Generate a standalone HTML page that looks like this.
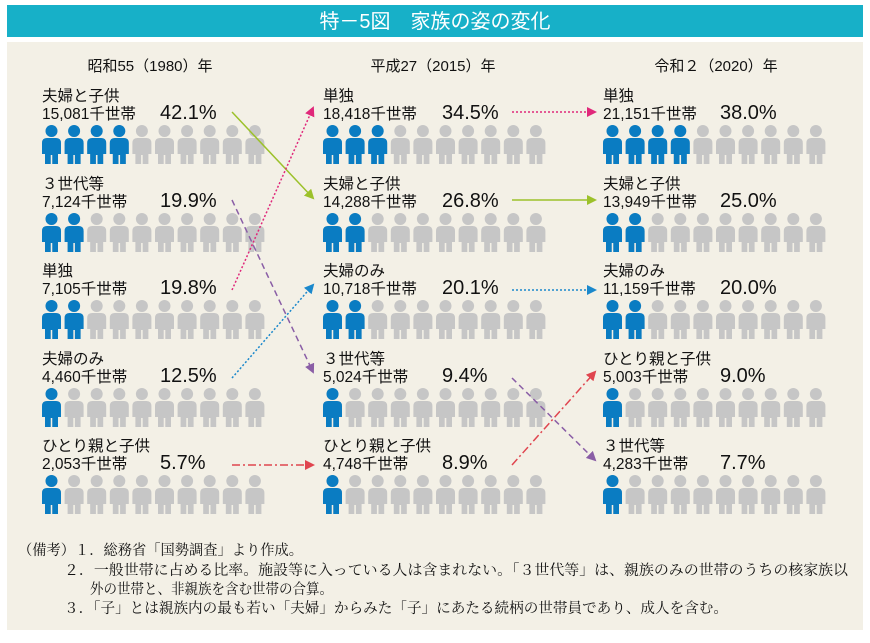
<!DOCTYPE html>
<html><head><meta charset="utf-8"><style>
body{margin:0;background:#fff;}
svg text{font-family:"Liberation Sans","Noto Sans CJK JP",sans-serif;fill:#111;}
.fn{font-family:"Liberation Serif","Noto Serif CJK SC",serif;font-size:14.5px;}
</style></head><body>
<svg width="870" height="638" viewBox="0 0 870 638" xmlns="http://www.w3.org/2000/svg" xmlns:xlink="http://www.w3.org/1999/xlink">
<defs>
<g id="p"><circle cx="9.5" cy="6" r="6"/><path d="M0 18 Q0 13 5 13 L14 13 Q19 13 19 18 L19 29 L16 29 L16 39 L10.3 39 L10.3 30 L8.7 30 L8.7 39 L3 39 L3 29 L0 29 Z"/></g>
<g id="row" fill="#c6c6c6">
<use xlink:href="#p" x="0"/><use xlink:href="#p" x="22.6"/><use xlink:href="#p" x="45.2"/><use xlink:href="#p" x="67.8"/><use xlink:href="#p" x="90.4"/><use xlink:href="#p" x="113"/><use xlink:href="#p" x="135.6"/><use xlink:href="#p" x="158.2"/><use xlink:href="#p" x="180.8"/><use xlink:href="#p" x="203.4"/>
</g>
<marker id="ag" markerWidth="10" markerHeight="10" refX="8" refY="5" orient="auto" markerUnits="userSpaceOnUse"><path d="M0 0L10 5L0 10Z" fill="#9cc12a"/></marker>
<marker id="ak" markerWidth="10" markerHeight="10" refX="8" refY="5" orient="auto" markerUnits="userSpaceOnUse"><path d="M0 0L10 5L0 10Z" fill="#e0287a"/></marker>
<marker id="au" markerWidth="10" markerHeight="10" refX="8" refY="5" orient="auto" markerUnits="userSpaceOnUse"><path d="M0 0L10 5L0 10Z" fill="#8a5ea6"/></marker>
<marker id="ab" markerWidth="10" markerHeight="10" refX="8" refY="5" orient="auto" markerUnits="userSpaceOnUse"><path d="M0 0L10 5L0 10Z" fill="#1a88cc"/></marker>
<marker id="ar" markerWidth="10" markerHeight="10" refX="8" refY="5" orient="auto" markerUnits="userSpaceOnUse"><path d="M0 0L10 5L0 10Z" fill="#e0454f"/></marker>
</defs>
<rect x="7" y="42" width="856" height="588" fill="#f3f0e6"/>
<rect x="7" y="5" width="856" height="32" fill="#17b0c8"/>
<text x="435" y="28" text-anchor="middle" font-size="20" style="fill:#fff">特－5図　家族の姿の変化</text>
<text x="150" y="71" text-anchor="middle" font-size="15">昭和55（1980）年</text>
<text x="433" y="71" text-anchor="middle" font-size="15">平成27（2015）年</text>
<text x="716" y="71" text-anchor="middle" font-size="15">令和２（2020）年</text>

<use xlink:href="#row" x="42" y="125"/><use xlink:href="#row" x="42" y="213"/><use xlink:href="#row" x="42" y="300"/><use xlink:href="#row" x="42" y="388"/><use xlink:href="#row" x="42" y="475"/>
<use xlink:href="#row" x="323" y="125"/><use xlink:href="#row" x="323" y="213"/><use xlink:href="#row" x="323" y="300"/><use xlink:href="#row" x="323" y="388"/><use xlink:href="#row" x="323" y="475"/>
<use xlink:href="#row" x="603" y="125"/><use xlink:href="#row" x="603" y="213"/><use xlink:href="#row" x="603" y="300"/><use xlink:href="#row" x="603" y="388"/><use xlink:href="#row" x="603" y="475"/>

<g fill="#0a7cc2">
<use xlink:href="#p" x="42" y="125"/><use xlink:href="#p" x="64.6" y="125"/><use xlink:href="#p" x="87.2" y="125"/><use xlink:href="#p" x="109.8" y="125"/>
<use xlink:href="#p" x="42" y="213"/><use xlink:href="#p" x="64.6" y="213"/>
<use xlink:href="#p" x="42" y="300"/><use xlink:href="#p" x="64.6" y="300"/>
<use xlink:href="#p" x="42" y="388"/>
<use xlink:href="#p" x="42" y="475"/>
<use xlink:href="#p" x="323" y="125"/><use xlink:href="#p" x="345.6" y="125"/><use xlink:href="#p" x="368.2" y="125"/>
<use xlink:href="#p" x="323" y="213"/><use xlink:href="#p" x="345.6" y="213"/>
<use xlink:href="#p" x="323" y="300"/><use xlink:href="#p" x="345.6" y="300"/>
<use xlink:href="#p" x="323" y="388"/>
<use xlink:href="#p" x="323" y="475"/>
<use xlink:href="#p" x="603" y="125"/><use xlink:href="#p" x="625.6" y="125"/><use xlink:href="#p" x="648.2" y="125"/><use xlink:href="#p" x="670.8" y="125"/>
<use xlink:href="#p" x="603" y="213"/><use xlink:href="#p" x="625.6" y="213"/>
<use xlink:href="#p" x="603" y="300"/><use xlink:href="#p" x="625.6" y="300"/>
<use xlink:href="#p" x="603" y="388"/>
<use xlink:href="#p" x="603" y="475"/>
</g>

<g font-size="15.5">
<text x="42" y="101">夫婦と子供</text><text x="42" y="119">15,081千世帯</text><text x="160" y="119" font-size="20">42.1%</text>
<text x="42" y="189">３世代等</text><text x="42" y="207">7,124千世帯</text><text x="160" y="207" font-size="20">19.9%</text>
<text x="42" y="276">単独</text><text x="42" y="294">7,105千世帯</text><text x="160" y="294" font-size="20">19.8%</text>
<text x="42" y="364">夫婦のみ</text><text x="42" y="382">4,460千世帯</text><text x="160" y="382" font-size="20">12.5%</text>
<text x="42" y="451">ひとり親と子供</text><text x="42" y="469">2,053千世帯</text><text x="160" y="469" font-size="20">5.7%</text>

<text x="323" y="101">単独</text><text x="323" y="119">18,418千世帯</text><text x="442" y="119" font-size="20">34.5%</text>
<text x="323" y="189">夫婦と子供</text><text x="323" y="207">14,288千世帯</text><text x="442" y="207" font-size="20">26.8%</text>
<text x="323" y="276">夫婦のみ</text><text x="323" y="294">10,718千世帯</text><text x="442" y="294" font-size="20">20.1%</text>
<text x="323" y="364">３世代等</text><text x="323" y="382">5,024千世帯</text><text x="442" y="382" font-size="20">9.4%</text>
<text x="323" y="451">ひとり親と子供</text><text x="323" y="469">4,748千世帯</text><text x="442" y="469" font-size="20">8.9%</text>

<text x="603" y="101">単独</text><text x="603" y="119">21,151千世帯</text><text x="720" y="119" font-size="20">38.0%</text>
<text x="603" y="189">夫婦と子供</text><text x="603" y="207">13,949千世帯</text><text x="720" y="207" font-size="20">25.0%</text>
<text x="603" y="276">夫婦のみ</text><text x="603" y="294">11,159千世帯</text><text x="720" y="294" font-size="20">20.0%</text>
<text x="603" y="364">ひとり親と子供</text><text x="603" y="382">5,003千世帯</text><text x="720" y="382" font-size="20">9.0%</text>
<text x="603" y="451">３世代等</text><text x="603" y="469">4,283千世帯</text><text x="720" y="469" font-size="20">7.7%</text>
</g>
<g fill="none" stroke-width="1.5">
<line x1="232" y1="112" x2="313" y2="198" stroke="#9cc12a" marker-end="url(#ag)"/>
<line x1="232" y1="200" x2="313" y2="372" stroke="#8a5ea6" stroke-dasharray="6,4" marker-end="url(#au)"/>
<line x1="232" y1="290" x2="313" y2="108" stroke="#e0287a" stroke-dasharray="2,2" marker-end="url(#ak)"/>
<line x1="232" y1="378" x2="313" y2="285" stroke="#1a88cc" stroke-dasharray="2,2" marker-end="url(#ab)"/>
<line x1="232" y1="465" x2="313" y2="465" stroke="#e0454f" stroke-dasharray="8,3,2,3" marker-end="url(#ar)"/>
<line x1="512" y1="112" x2="595" y2="112" stroke="#e0287a" stroke-dasharray="2,2" marker-end="url(#ak)"/>
<line x1="512" y1="200" x2="595" y2="200" stroke="#9cc12a" marker-end="url(#ag)"/>
<line x1="512" y1="290" x2="595" y2="290" stroke="#1a88cc" stroke-dasharray="2,2" marker-end="url(#ab)"/>
<line x1="512" y1="378" x2="595" y2="460" stroke="#8a5ea6" stroke-dasharray="6,4" marker-end="url(#au)"/>
<line x1="512" y1="465" x2="595" y2="372" stroke="#e0454f" stroke-dasharray="8,3,2,3" marker-end="url(#ar)"/>
</g>
<text class="fn" x="18" y="555" textLength="285" lengthAdjust="spacingAndGlyphs">（備考）１．総務省「国勢調査」より作成。</text>
<text class="fn" x="64" y="575" textLength="784" lengthAdjust="spacingAndGlyphs">２．一般世帯に占める比率。施設等に入っている人は含まれない。「３世代等」は、親族のみの世帯のうちの核家族以</text>
<text class="fn" x="90" y="594" textLength="243" lengthAdjust="spacingAndGlyphs">外の世帯と、非親族を含む世帯の合算。</text>
<text class="fn" x="64" y="613" textLength="664" lengthAdjust="spacingAndGlyphs">３．「子」とは親族内の最も若い「夫婦」からみた「子」にあたる続柄の世帯員であり、成人を含む。</text>
</svg>
</body></html>
